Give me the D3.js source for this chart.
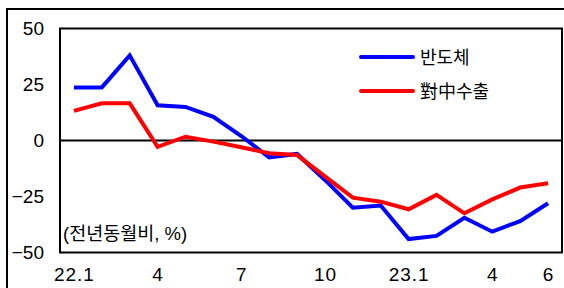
<!DOCTYPE html>
<html>
<head>
<meta charset="utf-8">
<script src="https://cdn.jsdelivr.net/npm/d3@7"></script>
<style>
	body { margin: 0; background: #fff; }
	text { font-family: "Liberation Sans", Arial, "Noto Sans CJK KR", sans-serif; fill: #000; }
</style>
</head>
<body>
<svg id="chart" width="564" height="288"></svg>
<script>
const months = ['22.1','2','3','4','5','6','7','8','9','10','11','12','23.1','2','3','4','5','6']
const tickLabels = ['22.1','4','7','10','23.1','4','6']
const yTicks = [50, 25, 0, -25, -50]

// 반도체 수출 (전년동월비, %)
const semis = [23.7, 23.7, 38, 15.7, 15, 10.6, 2, -7.5, -6, -17.6, -30, -29, -44, -42.6, -34.5, -40.7, -36, -28]
// 對中 수출
const china = [13.2, 16.6, 16.6, -2.8, 1.7, -0.5, -3, -5.7, -6.5, -16, -25.5, -27.3, -30.7, -24.3, -32.5, -26.3, -21, -19.1]

const series = [
	{ name: '반도체', values: semis, color: '#0000ff' },
	{ name: '對中수출', values: china, color: '#ff0000' }
]

const plot = { left: 60, right: 562, top: 28.5, bottom: 252.5 }

const svg = d3.select('#chart')

// outer frame
svg.append('rect')
	.attr('x', 7).attr('y', 9)
	.attr('width', 600).attr('height', 300)
	.attr('fill', 'none')
	.attr('stroke', '#000')
	.attr('stroke-width', 2)

const x = d3.scalePoint()
	.domain(months.map((m, i) => i))
	.range([plot.left, plot.right])
	.padding(0.5)

const y = d3.scaleLinear()
	.domain([-50, 50])
	.range([plot.bottom, plot.top])

// y axis labels
const yAxis = d3.axisLeft(y).tickValues(yTicks).tickSize(0).tickPadding(16)
svg.append('g')
	.attr('transform', `translate(${plot.left},0)`)
	.call(yAxis)
	.call(g => g.select('.domain').remove())
	.selectAll('text')
		.attr('font-size', 19)
		.attr('font-family', '"Liberation Sans", Arial, sans-serif')

// x axis labels
const tickIdx = [0, 3, 6, 9, 12, 15, 17]
const xAxis = d3.axisBottom(x)
	.tickValues(tickIdx)
	.tickFormat((d, i) => tickLabels[i])
	.tickSize(0)
	.tickPadding(15)
svg.append('g')
	.attr('transform', `translate(0,${plot.bottom})`)
	.call(xAxis)
	.call(g => g.select('.domain').remove())
	.selectAll('text')
		.attr('font-size', 19)
		.attr('letter-spacing', 1)
		.attr('font-family', '"Liberation Sans", Arial, sans-serif')

// zero line
svg.append('line')
	.attr('x1', plot.left).attr('x2', plot.right)
	.attr('y1', y(0)).attr('y2', y(0))
	.attr('stroke', '#000')
	.attr('stroke-width', 2)

// plot frame
svg.append('rect')
	.attr('x', plot.left).attr('y', plot.top)
	.attr('width', plot.right - plot.left)
	.attr('height', plot.bottom - plot.top)
	.attr('fill', 'none')
	.attr('stroke', '#000')
	.attr('stroke-width', 2)

const line = d3.line()
	.x((d, i) => x(i))
	.y((d) => y(d))

// blue drawn first, red on top
svg.selectAll('.series')
	.data(series)
	.enter().append('path')
		.attr('class', 'series')
		.attr('d', (s) => line(s.values))
		.attr('fill', 'none')
		.attr('stroke', (s) => s.color)
		.attr('stroke-width', 4)
		.attr('stroke-linejoin', 'miter')

// legend
const legend = svg.append('g')
	.attr('transform', 'translate(361,57)')
legend.selectAll('line')
	.data(series)
	.enter().append('line')
		.attr('x1', 0).attr('x2', 52)
		.attr('y1', (d, i) => i * 34).attr('y2', (d, i) => i * 34)
		.attr('stroke', (d) => d.color)
		.attr('stroke-width', 4)
		.attr('stroke-linecap', 'round')
legend.selectAll('text')
	.data(series)
	.enter().append('text')
		.attr('x', 59)
		.attr('y', (d, i) => i * 34 + 7)
		.attr('font-size', 18)
		.text((d) => d.name)

svg.append('text')
	.attr('x', 63)
	.attr('y', 240)
	.attr('font-size', 18.5)
	.text('(전년동월비, %)')
</script>
</body>
</html>
